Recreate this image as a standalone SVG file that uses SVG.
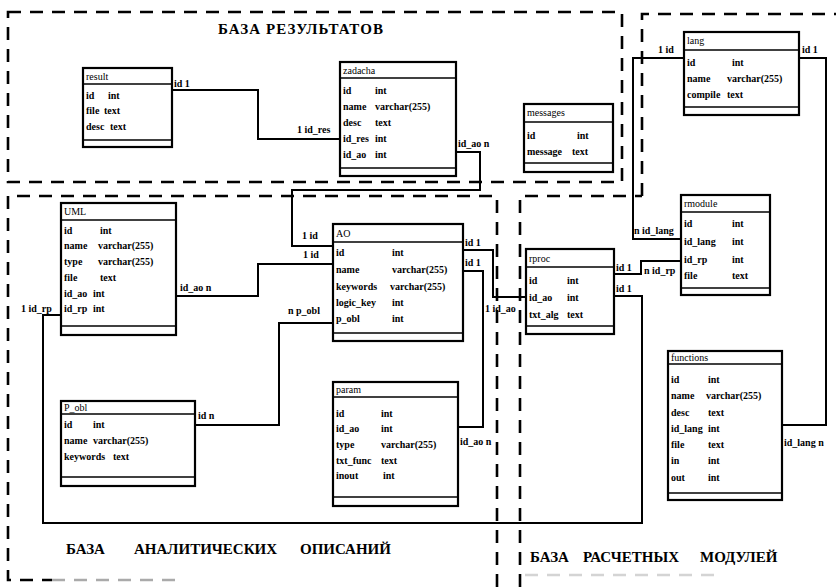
<svg xmlns="http://www.w3.org/2000/svg" width="836" height="587" viewBox="0 0 836 587">
  <style>
    .box { fill: #fff; stroke: #000; stroke-width: 2.2; }
    .sep { stroke: #000; stroke-width: 1.6; }
    .t { font-family: "Liberation Serif", "Times New Roman", serif; font-size: 10px; font-weight: bold; fill: #000; }
    .h { font-family: "Liberation Serif", "Times New Roman", serif; font-size: 10px; fill: #000; }
    .zone { font-family: "Liberation Serif", "Times New Roman", serif; font-size: 15px; font-weight: bold; fill: #000; }
    .conn { fill: none; stroke: #000; stroke-width: 2; }
    .dash { fill: none; stroke: #000; stroke-width: 2.6; stroke-dasharray: 13 9; }
  </style>
  <rect width="836" height="587" fill="#fff"/>

  <!-- zone borders and titles -->
  <g id="zones">
    <rect class="dash" x="8" y="12" width="614" height="170"/>
    <path class="dash" d="M642,196 V14 H836"/>
    <path class="dash" d="M497,587 V196 H8 V580 H52"/>
    <path class="dash" d="M52,580 H178" style="stroke:#aaa"/>
    <path class="dash" d="M520,587 V196 H642"/>
    <path class="dash" d="M525,575 H722" style="stroke:#d4d4d4"/>
    <text class="zone" x="218" y="34" textLength="165">БАЗА РЕЗУЛЬТАТОВ</text>
    <text class="zone" x="66" y="554">БАЗА</text>
    <text class="zone" x="134" y="554">АНАЛИТИЧЕСКИХ</text>
    <text class="zone" x="300" y="554">ОПИСАНИЙ</text>
    <text class="zone" x="530" y="562">БАЗА</text>
    <text class="zone" x="583" y="562">РАСЧЕТНЫХ</text>
    <text class="zone" x="700" y="562">МОДУЛЕЙ</text>
  </g>

  <!-- connectors -->
  <g id="connectors">
    <path class="conn" d="M172,90 H258 V139 H340"/>
    <path class="conn" d="M456,152 H480 V190 H292 V246 H333"/>
    <path class="conn" d="M176,296 H258 V264 H333"/>
    <path class="conn" d="M195,425 H279 V323 H333"/>
    <path class="conn" d="M463,250 H493 V297 H526"/>
    <path class="conn" d="M463,271 H483 V427 H458"/>
    <path class="conn" d="M614,274 H641 V261 H681"/>
    <path class="conn" d="M614,296 H642 V523 H43 V315 H61"/>
    <path class="conn" d="M684,58 H633 V239 H681"/>
    <path class="conn" d="M799,58 H826 V425 H782"/>
    <g class="t">
      <text x="174" y="87">id 1</text>
      <text x="297" y="133">1 id_res</text>
      <text x="458" y="147">id_ao n</text>
      <text x="302" y="239">1 id</text>
      <text x="303" y="258">1 id</text>
      <text x="180" y="291">id_ao n</text>
      <text x="288" y="314">n p_obl</text>
      <text x="198" y="419">id n</text>
      <text x="21" y="312">1 id_rp</text>
      <text x="465" y="246">id 1</text>
      <text x="465" y="266">id 1</text>
      <text x="485" y="312">1 id_ao</text>
      <text x="460" y="445">id_ao n</text>
      <text x="616" y="271">id 1</text>
      <text x="616" y="292">id 1</text>
      <text x="644" y="274">n id_rp</text>
      <text x="634" y="234">n id_lang</text>
      <text x="658" y="53">1 id</text>
      <text x="802" y="53">id 1</text>
      <text x="784" y="446">id_lang n</text>
    </g>
  </g>

  <!-- tables -->
  <g id="result">
    <rect class="box" x="83" y="68" width="89" height="79"/>
    <line class="sep" x1="83" y1="84" x2="172" y2="84"/>
    <line class="sep" x1="83" y1="140" x2="172" y2="140"/>
    <text class="h" x="86" y="80">result</text>
    <g class="t">
      <text x="86" y="99">id</text><text x="108" y="99">int</text>
      <text x="86" y="114">file</text><text x="104" y="114">text</text>
      <text x="86" y="130">desc</text><text x="110" y="130">text</text>
    </g>
  </g>

  <g id="zadacha">
    <rect class="box" x="340" y="62" width="116" height="114"/>
    <line class="sep" x1="340" y1="78" x2="456" y2="78"/>
    <line class="sep" x1="340" y1="168" x2="456" y2="168"/>
    <text class="h" x="343" y="74">zadacha</text>
    <g class="t">
      <text x="343" y="94">id</text><text x="375" y="94">int</text>
      <text x="343" y="110">name</text><text x="375" y="110">varchar(255)</text>
      <text x="343" y="126">desc</text><text x="375" y="126">text</text>
      <text x="343" y="142">id_res</text><text x="375" y="142">int</text>
      <text x="343" y="158">id_ao</text><text x="375" y="158">int</text>
    </g>
  </g>

  <g id="messages">
    <rect class="box" x="524" y="104" width="89" height="68"/>
    <line class="sep" x1="524" y1="122" x2="613" y2="122"/>
    <line class="sep" x1="524" y1="163" x2="613" y2="163"/>
    <text class="h" x="527" y="116">messages</text>
    <g class="t">
      <text x="527" y="139">id</text><text x="577" y="139">int</text>
      <text x="527" y="155">message</text><text x="572" y="155">text</text>
    </g>
  </g>

  <g id="lang">
    <rect class="box" x="684" y="32" width="115" height="83"/>
    <line class="sep" x1="684" y1="50" x2="799" y2="50"/>
    <line class="sep" x1="684" y1="107" x2="799" y2="107"/>
    <text class="h" x="687" y="44">lang</text>
    <g class="t">
      <text x="687" y="66">id</text><text x="732" y="66">int</text>
      <text x="687" y="82">name</text><text x="727" y="82">varchar(255)</text>
      <text x="687" y="98">compile</text><text x="727" y="98">text</text>
    </g>
  </g>

  <g id="UML">
    <rect class="box" x="61" y="203" width="115" height="132"/>
    <line class="sep" x1="61" y1="220" x2="176" y2="220"/>
    <line class="sep" x1="61" y1="326" x2="176" y2="326"/>
    <text class="h" x="64" y="215">UML</text>
    <g class="t">
      <text x="64" y="234">id</text><text x="100" y="234">int</text>
      <text x="64" y="249">name</text><text x="98" y="249">varchar(255)</text>
      <text x="64" y="265">type</text><text x="98" y="265">varchar(255)</text>
      <text x="64" y="281">file</text><text x="100" y="281">text</text>
      <text x="64" y="297">id_ao</text><text x="93" y="297">int</text>
      <text x="64" y="312">id_rp</text><text x="93" y="312">int</text>
    </g>
  </g>

  <g id="AO">
    <rect class="box" x="333" y="224" width="130" height="117"/>
    <line class="sep" x1="333" y1="242" x2="463" y2="242"/>
    <line class="sep" x1="333" y1="333" x2="463" y2="333"/>
    <text class="h" x="336" y="237">AO</text>
    <g class="t">
      <text x="336" y="256">id</text><text x="392" y="256">int</text>
      <text x="336" y="273">name</text><text x="392" y="273">varchar(255)</text>
      <text x="336" y="290">keywords</text><text x="390" y="290">varchar(255)</text>
      <text x="336" y="306">logic_key</text><text x="392" y="306">int</text>
      <text x="336" y="322">p_obl</text><text x="392" y="322">int</text>
    </g>
  </g>

  <g id="rproc">
    <rect class="box" x="526" y="249" width="88" height="85"/>
    <line class="sep" x1="526" y1="267" x2="614" y2="267"/>
    <line class="sep" x1="526" y1="326" x2="614" y2="326"/>
    <text class="h" x="529" y="262">rproc</text>
    <g class="t">
      <text x="529" y="284">id</text><text x="567" y="284">int</text>
      <text x="529" y="301">id_ao</text><text x="567" y="301">int</text>
      <text x="529" y="318">txt_alg</text><text x="567" y="318">text</text>
    </g>
  </g>

  <g id="rmodule">
    <rect class="box" x="681" y="195" width="89" height="100"/>
    <line class="sep" x1="681" y1="212" x2="770" y2="212"/>
    <line class="sep" x1="681" y1="288" x2="770" y2="288"/>
    <text class="h" x="684" y="207">rmodule</text>
    <g class="t">
      <text x="684" y="227">id</text><text x="732" y="227">int</text>
      <text x="684" y="245">id_lang</text><text x="732" y="245">int</text>
      <text x="684" y="263">id_rp</text><text x="732" y="263">int</text>
      <text x="684" y="279">file</text><text x="732" y="279">text</text>
    </g>
  </g>

  <g id="param">
    <rect class="box" x="333" y="382" width="125" height="124"/>
    <line class="sep" x1="333" y1="397" x2="458" y2="397"/>
    <line class="sep" x1="333" y1="497" x2="458" y2="497"/>
    <text class="h" x="336" y="393">param</text>
    <g class="t">
      <text x="336" y="417">id</text><text x="381" y="417">int</text>
      <text x="336" y="432">id_ao</text><text x="381" y="432">int</text>
      <text x="336" y="448">type</text><text x="381" y="448">varchar(255)</text>
      <text x="336" y="464">txt_func</text><text x="381" y="464">text</text>
      <text x="336" y="479">inout</text><text x="383" y="479">int</text>
    </g>
  </g>

  <g id="P_obl">
    <rect class="box" x="61" y="401" width="134" height="85"/>
    <line class="sep" x1="61" y1="414" x2="195" y2="414"/>
    <line class="sep" x1="61" y1="477" x2="195" y2="477"/>
    <text class="h" x="64" y="411">P_obl</text>
    <g class="t">
      <text x="64" y="428">id</text><text x="93" y="428">int</text>
      <text x="64" y="444">name</text><text x="93" y="444">varchar(255)</text>
      <text x="64" y="460">keywords</text><text x="113" y="460">text</text>
    </g>
  </g>

  <g id="functions">
    <rect class="box" x="668" y="351" width="114" height="149"/>
    <line class="sep" x1="668" y1="364" x2="782" y2="364"/>
    <line class="sep" x1="668" y1="493" x2="782" y2="493"/>
    <text class="h" x="671" y="361">functions</text>
    <g class="t">
      <text x="671" y="383">id</text><text x="708" y="383">int</text>
      <text x="671" y="399">name</text><text x="706" y="399">varchar(255)</text>
      <text x="671" y="416">desc</text><text x="708" y="416">text</text>
      <text x="671" y="432">id_lang</text><text x="708" y="432">int</text>
      <text x="671" y="448">file</text><text x="708" y="448">text</text>
      <text x="671" y="464">in</text><text x="708" y="464">int</text>
      <text x="671" y="481">out</text><text x="708" y="481">int</text>
    </g>
  </g>
</svg>
